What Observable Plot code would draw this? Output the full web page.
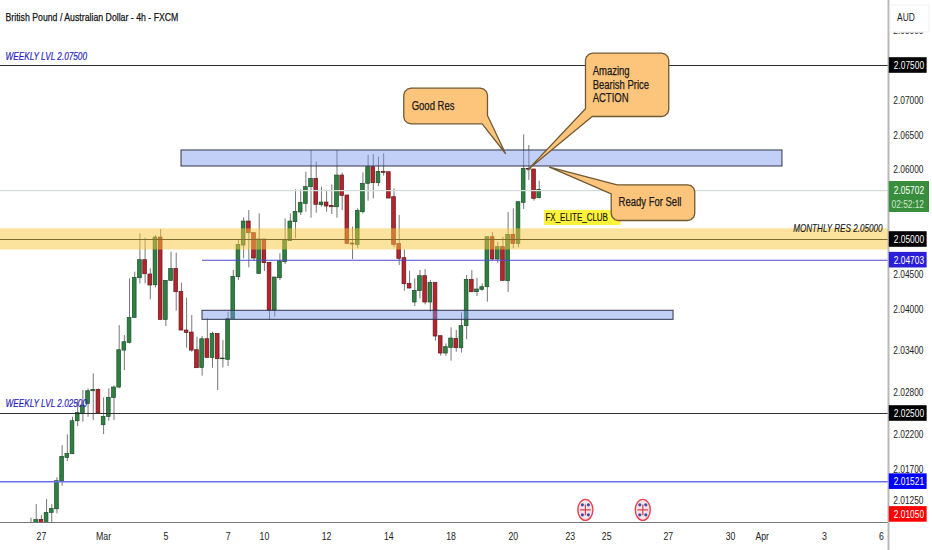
<!DOCTYPE html>
<html><head><meta charset="utf-8">
<script src="https://cdn.jsdelivr.net/npm/d3@7"></script>
<script src="https://cdn.jsdelivr.net/npm/@observablehq/plot@0.6"></script>
<style>html,body{margin:0;padding:0;background:#fff}svg{display:block}</style>
</head><body><div id="chart"></div>
<script>
// OHLC per 4h bar, first visible bar has index -1
const open = [2.0090,2.0085,2.00971,2.0090,2.01072,2.01124,2.01527,2.01862,2.01915,2.02389,2.02494,2.02638,2.02820,2.02839,2.02332,2.02451,2.02724,2.02873,2.03404,2.03515,2.03874,2.04444,2.04703,2.04497,2.04343,2.05028,2.03845,2.04406,2.04578,2.04248,2.03692,2.03663,2.03409,2.03155,2.03567,2.03299,2.03644,2.03280,2.03270,2.03855,2.04458,
2.04913,2.05258,2.05091,2.04506,2.05000,2.04664,2.03979,2.04444,2.04674,2.04976,2.05249,2.05388,2.05512,2.05752,2.05871,2.05493,2.05531,2.05483,2.05464,2.05919,2.05632,2.04942,2.04923,2.05392,2.05800,2.06039,2.05809,2.05972,2.05967,2.05608,2.04937,
2.04732,2.04363,2.04095,2.04258,2.04473,2.04095,2.04377,2.03611,2.03362,2.03443,2.03573,2.03438,2.03755,2.04420,2.04243,2.04277,2.04315,2.05033,2.04713,2.04890,2.04401,2.05067,2.04938,2.05527,2.06015,2.06006,2.05594];
const close = [2.0092,2.00971,2.0088,2.01072,2.01129,2.01527,2.01876,2.01920,2.02389,2.02509,2.02614,2.02820,2.02839,2.02504,2.02451,2.02724,2.02873,2.03409,2.03524,2.03874,2.04449,2.04703,2.04501,2.04339,2.05028,2.03845,2.04406,2.04578,2.04243,2.03692,2.03658,2.03404,2.03151,2.03567,2.03299,2.03644,2.03280,2.03290,2.03855,2.04463,2.04923,
2.05258,2.05091,2.04727,2.05000,2.04660,2.03979,2.04454,2.04684,2.04985,2.05258,2.05397,2.05527,2.05752,2.05871,2.05498,2.05531,2.05474,2.05464,2.05919,2.05627,2.04937,2.04928,2.05412,2.05800,2.06039,2.05809,2.05972,2.05958,2.05589,2.04923,2.04722,
2.04358,2.04296,2.04262,2.04473,2.04095,2.04377,2.03606,2.03362,2.03453,2.03577,2.03438,2.03755,2.04420,2.04243,2.04281,2.04315,2.05033,2.04713,2.04890,2.04406,2.05067,2.04938,2.05536,2.06015,2.06005,2.05584,2.05714];
const high = [2.00995,2.01192,2.01033,2.01263,2.01192,2.01575,2.02039,2.02193,2.02446,2.02686,2.02830,2.02854,2.03069,2.02854,2.02724,2.02854,2.02897,2.03764,2.03620,2.04434,2.04530,2.05081,2.05019,2.04578,2.05057,2.05143,2.04406,2.04818,2.04803,2.04372,2.04157,2.03907,2.03596,2.03606,2.03860,2.03668,2.03644,2.03548,2.03955,2.04554,2.04985,
2.05311,2.05416,2.05091,2.05368,2.05000,2.04664,2.04454,2.04794,2.05297,2.05368,2.05713,2.05713,2.05967,2.06279,2.06111,2.05752,2.05689,2.05785,2.06279,2.05953,2.05632,2.05177,2.05440,2.05958,2.06207,2.06221,2.06183,2.06231,2.05967,2.05728,2.05345,
2.04851,2.04545,2.04435,2.04554,2.04569,2.04411,2.04377,2.03611,2.03501,2.03731,2.03692,2.03946,2.04483,2.04554,2.04444,2.04363,2.05033,2.05096,2.04962,2.05033,2.05388,2.05441,2.05536,2.06504,2.06351,2.06006,2.05838];
const low = [2.0080,2.0080,2.0080,2.0080,2.0090,2.01057,2.01455,2.01809,2.01910,2.02312,2.02375,2.02446,2.02399,2.02494,2.02197,2.02389,2.02399,2.02854,2.03117,2.03500,2.03874,2.04362,2.04362,2.04133,2.04305,2.03845,2.03749,2.04406,2.03970,2.03692,2.03438,2.03381,2.03151,2.03036,2.03299,2.03151,2.02830,2.03155,2.03175,2.03855,2.04410,
2.04722,2.04593,2.04688,2.04506,2.04540,2.03845,2.03884,2.04410,2.04640,2.04976,2.05009,2.05345,2.05392,2.05306,2.05378,2.05464,2.05392,2.05359,2.05306,2.05416,2.04937,2.04712,2.04866,2.05368,2.05551,2.05584,2.05761,2.05910,2.05584,2.04880,2.04626,
2.04258,2.04291,2.04037,2.04147,2.04061,2.03956,2.03539,2.03323,2.03323,2.03252,2.03381,2.03367,2.03558,2.04234,2.04181,2.04258,2.04099,2.04698,2.04660,2.04406,2.04238,2.04866,2.04880,2.05431,2.05848,2.05551,2.05584];
const candles = open.map((o,k)=>({i:k-1,o,c:close[k],h:high[k],l:low[k],up:close[k]>=o}));

// bar-index positions of the time axis labels
const timeTicks  = [1,13,25,37,44,56,68,80,92,103,110,121.9,133.9,140,152,163];
const timeLabels = ["27","Mar","5","7","10","12","14","18","20","23","25","27","30","Apr","3","6"];
const priceTicks = [2.08,2.07,2.065,2.06,2.045,2.04,2.034,2.028,2.022,2.017,2.0125];

const levels = [
 {p:2.075,from:-6.884,color:"#2f2f2f",w:1.1},{p:2.025,from:-6.884,color:"#2f2f2f",w:1.1},{p:2.05,from:-6.884,color:"#7d6a2c",w:1.1},
 {p:2.04703,from:32.07,color:"#4b4bd0",w:1.1},{p:2.01521,from:-6.884,color:"#6a70ee",w:1.5},{p:2.05702,from:-6.884,color:"#d3dfd6",w:1.1}];
const blueZones = [{x1:28.02,x2:143.9,y1:2.06049,y2:2.06279},{x1:32.07,x2:122.9,y1:2.03846,y2:2.03976}];
const yellowZone = [{x1:-6.884,x2:164.35,y1:2.04849,y2:2.05154}];
const tags = [
 {p:2.075,t:"2.07500",bg:"#000000"},{p:2.05,t:"2.05000",bg:"#000000"},{p:2.04703,t:"2.04703",bg:"#2a1fd6"},
 {p:2.025,t:"2.02500",bg:"#000000"},{p:2.01521,t:"2.01521",bg:"#0000ff"},{p:2.0105,t:"2.01050",bg:"#ff0000"}];
const priceTag = [{x1:164.5,x2:172.26,y1:2.05388,y2:2.05833}];
const eventBars = [105.9,116.97], eventPrice = 2.01116;

const font = "'Liberation Sans',sans-serif";
const fill = "#fdc57c", edge = "#6f5a33";
const squeeze = 0.76;   // the reference's lettering is condensed
const labelBar = 171.2; // right end of the price labels, in bars

// rounded box with a pointer that replaces one corner
function box(x1,x2,top,bottom,at,ptr){
  const rx=1.4, ry=.001, out=[];
  const arc=(cx,cy,a0)=>{for(let a=0;a<=3;a++){const t=a0-a*Math.PI/6;out.push({x:cx+rx*Math.cos(t),y:cy+ry*Math.sin(t)});}};
  const P=p=>p.forEach(([x,y])=>out.push({x,y}));
  if(at==="TL")P(ptr);else arc(x1+rx,top-ry,Math.PI);
  arc(x2-rx,top-ry,Math.PI/2);
  if(at==="BR")P(ptr);else arc(x2-rx,bottom+ry,0);
  if(at==="BL")P(ptr);else arc(x1+rx,bottom+ry,-Math.PI/2);
  out.push(out[0]);
  return out;
}
const goodRes = box(70.88,87.02,2.07174,2.06662,"BR",[[87.02,2.06782],[90.49,2.06236],[86.0,2.06662]]);
const amazing = box(105.92,121.98,2.07677,2.06767,"BL",[[107.21,2.06767],[94.79,2.06001],[105.92,2.06878]]);
const ready   = box(110.88,126.99,2.05786,2.05273,"TL",[[110.88,2.05657],[98.98,2.06039],[112.03,2.05786]]);

const ellipse = {draw(c){const a=7.5,b=10.5,k=.5523;
  c.moveTo(a,0);c.bezierCurveTo(a,k*b,k*a,b,0,b);c.bezierCurveTo(-k*a,b,-a,k*b,-a,0);
  c.bezierCurveTo(-a,-k*b,-k*a,-b,0,-b);c.bezierCurveTo(k*a,-b,a,-k*b,a,0);c.closePath();}};

const txt = (s,x,y,o={}) => Plot.text([s],{x:()=>x,y:()=>y,text:d=>d,textAnchor:"start",fontSize:11,fill:"#1a1a1a",...o});
const heavy = {fontSize:12.5,stroke:"#1a1a1a",strokeWidth:.25};

const chart = Plot.plot({
  width:932,height:550,marginTop:0,marginLeft:0,marginRight:44,marginBottom:28,
  style:{fontFamily:font,background:"#fff",color:"#222",fontSize:"11px"},
  x:{domain:[-6.884,164.35],axis:null},
  y:{domain:[2.00934,2.08434],axis:null},
  marks:[
    Plot.axisX({ticks:timeTicks,tickFormat:d=>timeLabels[timeTicks.indexOf(d)],tickSize:0,tickPadding:9,fontSize:11.5,fill:"#222",label:null}),
    Plot.axisY({anchor:"right",ticks:priceTicks,tickFormat:d3.format(".5f"),tickSize:0,tickPadding:35,textAnchor:"end",fontSize:11,fill:"#222",label:null}),
    Plot.ruleY([2.00934],{stroke:"#777",strokeWidth:1.2}),
    Plot.ruleX(candles,{x:"i",y1:"l",y2:"h",stroke:"#777",strokeWidth:1,clip:true}),
    Plot.rect(candles,{x1:d=>d.i-.36,x2:d=>d.i+.36,y1:"o",y2:"c",fill:d=>d.up?"#2f8040":"#b8222c",stroke:d=>d.up?"#1c4d2b":"#5c1a1c",strokeWidth:.7,clip:true}),
    Plot.rect(yellowZone,{x1:"x1",x2:"x2",y1:"y1",y2:"y2",fill:"#f9c83c",fillOpacity:.5}),
    Plot.rect(blueZones,{x1:"x1",x2:"x2",y1:"y1",y2:"y2",fill:"#7896f0",fillOpacity:.45,stroke:"#30344a",strokeWidth:1}),
    Plot.ruleY(levels,{y:"p",x1:"from",x2:()=>164.35,stroke:"color",strokeWidth:"w"}),
    Plot.ruleX([164.35],{y1:()=>2.00532,y2:()=>2.08434,stroke:"#b9b9b9",strokeWidth:2}),
    Plot.rect(["FX"],{x1:()=>98.01,x2:()=>112.8,y1:()=>2.05201,y2:()=>2.05417,fill:"#fff23a"}),
    Plot.line(goodRes,{x:"x",y:"y",fill,stroke:edge,strokeWidth:1.3}),
    Plot.line(amazing,{x:"x",y:"y",fill,stroke:edge,strokeWidth:1.3}),
    Plot.line(ready,{x:"x",y:"y",fill,stroke:edge,strokeWidth:1.3}),
    txt("Good Res",72.4,2.06925,heavy),
    txt("Amazing\nBearish Price\nACTION",107.3,2.07227,{...heavy,lineHeight:1.08,lineAnchor:"middle"}),
    txt("Ready For Sell",112.3,2.05532,heavy),
    txt("FX_ELITE_CLUB",98.2,2.05309,{fontSize:10.5,stroke:"#1a1a1a",strokeWidth:.2}),
    txt("WEEKLY LVL 2.07500",-5.92,2.07629,{fontStyle:"italic",fill:"#2a1fc0",stroke:"#2a1fc0",strokeWidth:.2,fontSize:10.8}),
    txt("WEEKLY LVL 2.02500",-5.92,2.02637,{fontStyle:"italic",fill:"#2a1fc0",stroke:"#2a1fc0",strokeWidth:.2,fontSize:10.8}),
    txt("MONTHLY RES 2.05000",163.2,2.05158,{textAnchor:"end",fontStyle:"italic",stroke:"#1a1a1a",strokeWidth:.15,fontSize:10.7}),
    Plot.text(["British Pound / Australian Dollar - 4h - FXCM"],{frameAnchor:"top-left",dx:5,dy:17,textAnchor:"start",fontSize:11.5,fill:"#111",stroke:"#111",strokeWidth:.25,lineAnchor:"middle"}),
    Plot.rect(tags,{x1:()=>164.5,x2:()=>171.8,y1:d=>d.p-.00112,y2:d=>d.p+.00112,fill:"bg"}),
    Plot.text(tags,{x:()=>labelBar,y:"p",text:"t",textAnchor:"end",fill:"#fff",fontSize:11}),
    Plot.rect(priceTag,{x1:"x1",x2:"x2",y1:"y1",y2:"y2",fill:"#388e3c"}),
    txt("2.05702",labelBar,2.05702,{fill:"#fff",textAnchor:"end"}),
    txt("02:52:12",labelBar,2.05502,{fill:"#cfe8d0",textAnchor:"end"}),
    Plot.rect(["AUD"],{x1:()=>164.74,x2:()=>172.26,y1:()=>2.07974,y2:()=>2.08362,fill:"#fff",stroke:"#f0f0f0"}),
    txt("AUD",166,2.08190),
    Plot.dot(eventBars,{x:d=>d,y:()=>eventPrice,symbol:ellipse,r:5,fill:"#f4e4ea",stroke:"#e8404f",strokeWidth:1.4}),
    Plot.dot(eventBars,{x:d=>d,y:()=>eventPrice,symbol:"plus",r:3.6,stroke:"#d8404f",strokeWidth:1.2}),
    ...[[-3,-5],[3,-5],[-3,5],[3,5]].map(([dx,dy])=>Plot.dot(eventBars,{x:d=>d,y:()=>eventPrice,dx,dy,r:1.6,fill:"#3f4fa0"}))
  ]
});
document.getElementById("chart").append(chart);
// condense all lettering horizontally (no narrow face is installed)
chart.querySelectorAll("text").forEach(t=>{
  const spans=t.querySelectorAll("tspan");
  (spans.length?[...spans]:[t]).forEach(el=>{
    el.setAttribute("textLength",(el.getComputedTextLength()*squeeze).toFixed(1));
    el.setAttribute("lengthAdjust","spacingAndGlyphs");
  });
});
</script></body></html>
